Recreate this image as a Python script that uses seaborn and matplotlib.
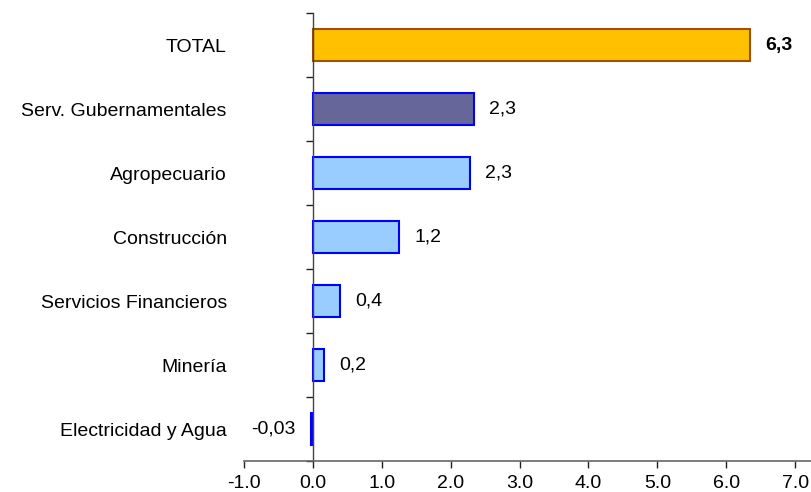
import matplotlib
matplotlib.use("Agg")
import matplotlib.pyplot as plt
import seaborn as sns
import pandas as pd

categories = ["TOTAL", "Serv. Gubernamentales", "Agropecuario", "Construcción",
              "Servicios Financieros", "Minería", "Electricidad y Agua"]
values = [6.35, 2.34, 2.28, 1.25, 0.39, 0.16, -0.03]
value_labels = ["6,3", "2,3", "2,3", "1,2", "0,4", "0,2", "-0,03"]
x_ticks = [-1, 0, 1, 2, 3, 4, 5, 6, 7]

fills = ["#FFC000", "#666699", "#99CCFF", "#99CCFF", "#99CCFF", "#99CCFF", "#99CCFF"]
edges = ["#9C5100", "#0000FF", "#0000FF", "#0000FF", "#0000FF", "#0000FF", "#0000FF"]

sns.set_style("white")
plt.rcParams["font.family"] = ["Liberation Sans", "DejaVu Sans"]
plt.rcParams["text.color"] = "black"
plt.rcParams["xtick.color"] = "black"
plt.rcParams["ytick.color"] = "black"

df = pd.DataFrame({"cat": categories, "val": values})

fig = plt.figure(figsize=(8.11, 4.92), dpi=100)
ax = fig.add_axes([244 / 811, 1 - 461 / 492, (811 - 244) / 811, (461 - 13.3) / 492])

sns.barplot(data=df, x="val", y="cat", hue="cat", palette=dict(zip(categories, fills)),
            orient="h", width=0.5, saturation=1, legend=False, ax=ax)

for patch, ec in zip(ax.patches, edges):
    patch.set_edgecolor(ec)
    patch.set_linewidth(1.5)

ax.set_xlim(-1, 7.23)
ax.set_ylim(6.5, -0.5)
ax.set_xlabel("")
ax.set_ylabel("")
ax.set_xticks(x_ticks)
ax.set_xticklabels([f"{t:.1f}" for t in x_ticks])

for s in ["top", "right"]:
    ax.spines[s].set_visible(False)
ax.spines["left"].set_position(("data", 0))
ax.spines["left"].set_color("#444444")
ax.spines["bottom"].set_color("#666666")
ax.spines["left"].set_linewidth(1.0)
ax.spines["bottom"].set_linewidth(1.2)

ax.set_yticks(range(len(categories)))
ax.set_yticklabels(categories)
ax.set_yticks([i - 0.5 for i in range(len(categories) + 1)], minor=True)
ax.tick_params(axis="y", which="major", left=True, length=0, pad=62, labelsize=14,
               labelcolor="black")
ax.tick_params(axis="y", which="minor", left=True, length=5, width=1, direction="out",
               color="#222222")
ax.tick_params(axis="x", which="major", length=5, width=1, direction="out", pad=5,
               labelsize=14, color="#222222", bottom=True, labelcolor="black")

for i, (v, lab) in enumerate(zip(values, value_labels)):
    if v >= 0:
        ax.annotate(lab, xy=(v, i), xytext=(11, 0), textcoords="offset points",
                    ha="left", va="center", fontsize=14, color="black",
                    fontweight="bold" if i == 0 else "normal")
    else:
        ax.annotate(lab, xy=(v, i), xytext=(-11, 0), textcoords="offset points",
                    ha="right", va="center", fontsize=14, color="black")

fig.savefig("out.png", dpi=100)
